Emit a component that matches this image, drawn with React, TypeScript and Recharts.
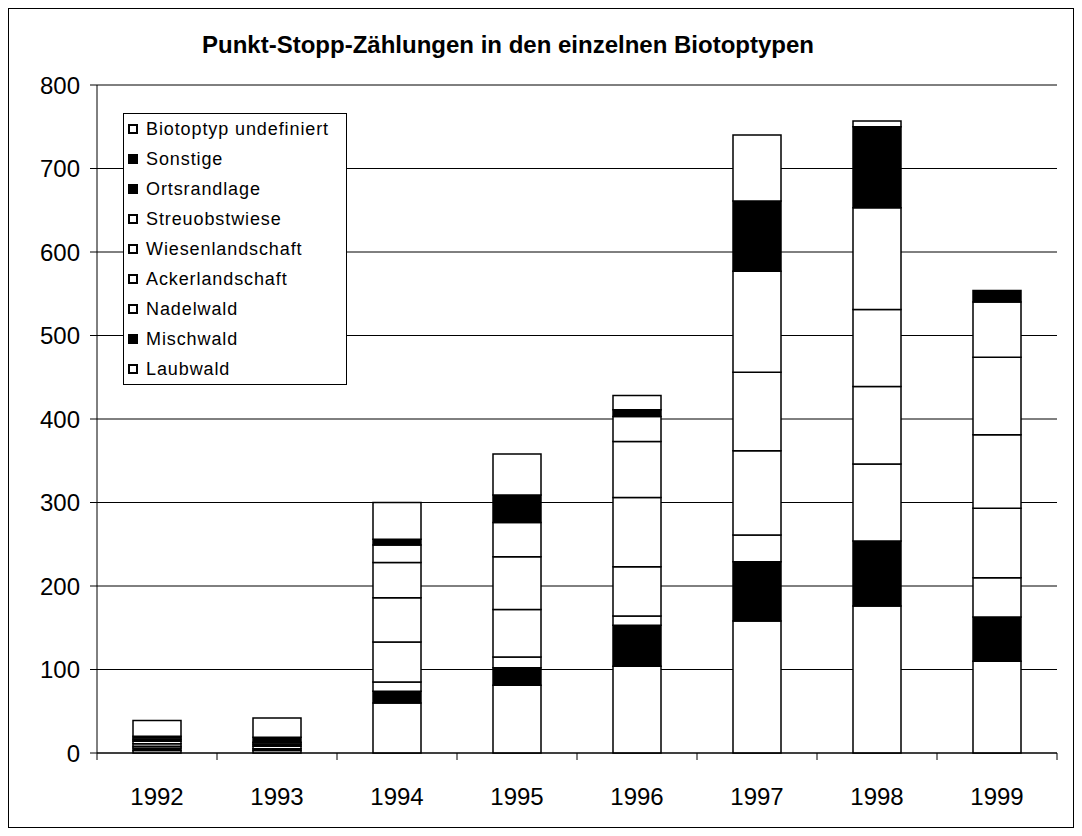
import React from 'react';
import { BarChart, Bar, XAxis, YAxis, CartesianGrid, Legend } from 'recharts';

const years = ['1992', '1993', '1994', '1995', '1996', '1997', '1998', '1999'];
const laubwald = [3, 3, 60, 81, 104, 158, 176, 110];
const mischwald = [3, 2, 14, 21, 49, 71, 78, 53];
const nadelwald = [2, 3, 11, 13, 11, 32, 92, 47];
const ackerlandschaft = [3, 2, 48, 57, 59, 101, 93, 83];
const wiesenlandschaft = [3, 2, 53, 63, 83, 94, 92, 88];
const streuobstwiese = [2, 1, 42, 41, 67, 121, 122, 93];
const ortsrandlage = [2, 0, 21, 0, 30, 0, 0, 66];
const sonstige = [2, 6, 7, 33, 8, 84, 97, 14];
const undefiniert = [19, 23, 44, 49, 17, 79, 7, 0];

const seriesNames = [
  'Laubwald',
  'Mischwald',
  'Nadelwald',
  'Ackerlandschaft',
  'Wiesenlandschaft',
  'Streuobstwiese',
  'Ortsrandlage',
  'Sonstige',
  'Biotoptyp undefiniert',
];
const seriesValues = [
  laubwald,
  mischwald,
  nadelwald,
  ackerlandschaft,
  wiesenlandschaft,
  streuobstwiese,
  ortsrandlage,
  sonstige,
  undefiniert,
];
const barFills = ['#ffffff', '#000000', '#ffffff', '#ffffff', '#ffffff', '#ffffff', '#ffffff', '#000000', '#ffffff'];
const legendFills = ['#ffffff', '#000000', '#ffffff', '#ffffff', '#ffffff', '#ffffff', '#000000', '#000000', '#ffffff'];
const yTicks = [0, 100, 200, 300, 400, 500, 600, 700, 800];

const title = 'Punkt-Stopp-Zählungen in den einzelnen Biotoptypen';

const data = years.map((year, i) => {
  const row: Record<string, string | number> = { year };
  seriesNames.forEach((name, k) => {
    row[name] = seriesValues[k][i];
  });
  return row;
});

const FONT = '"Liberation Sans", Arial, sans-serif';

const LegendBox = () => (
  <div
    style={{
      border: '1px solid #000',
      background: '#fff',
      width: 222,
      fontFamily: FONT,
      fontSize: 18,
      letterSpacing: 0.9,
      color: '#000',
    }}
  >
    {[...seriesNames].reverse().map((name) => {
      const k = seriesNames.indexOf(name);
      return (
        <div key={name} style={{ height: 30, display: 'flex', alignItems: 'center' }}>
          <span
            style={{
              display: 'inline-block',
              width: 6,
              height: 6,
              border: '2px solid #000',
              background: legendFills[k],
              marginLeft: 4,
              marginRight: 8,
            }}
          />
          <span>{name}</span>
        </div>
      );
    })}
  </div>
);

const XTick = (props: any) => {
  const { x, y, payload, index, visibleTicksCount } = props;
  const half = 60;
  const last = index === (visibleTicksCount ?? years.length) - 1;
  return (
    <g>
      <line x1={x - half} y1={y} x2={x - half} y2={y + 7} stroke="#000" strokeWidth={1} />
      {last && <line x1={x + half} y1={y} x2={x + half} y2={y + 7} stroke="#000" strokeWidth={1} />}
      <text x={x} y={y + 52} textAnchor="middle" fontSize={24} fontFamily={FONT} fill="#000">
        {payload.value}
      </text>
    </g>
  );
};

export default function App() {
  return (
    <div
      style={{
        position: 'relative',
        width: 1064,
        height: 818,
        border: '1px solid #000',
        background: '#fff',
      }}
    >
      <div
        style={{
          position: 'absolute',
          left: 0,
          width: 998,
          top: 22,
          textAlign: 'center',
          fontFamily: FONT,
          fontWeight: 'bold',
          fontSize: 24,
          letterSpacing: 0,
          color: '#000',
          zIndex: 2,
        }}
      >
        {title}
      </div>
      <BarChart
        width={1064}
        height={818}
        data={data}
        margin={{ top: 76, right: 16, left: 0, bottom: 34 }}
        barSize={48}
      >
        <CartesianGrid vertical={false} stroke="#000" strokeWidth={1} />
        <XAxis
          dataKey="year"
          tick={<XTick />}
          tickLine={false}
          tickSize={0}
          tickMargin={0}
          height={40}
          axisLine={{ stroke: '#000', strokeWidth: 1 }}
          interval={0}
        />
        <YAxis
          domain={[0, 800]}
          ticks={yTicks}
          width={88}
          tickSize={7}
          tickMargin={10}
          tickLine={{ stroke: '#000' }}
          axisLine={{ stroke: '#000', strokeWidth: 1 }}
          tick={{ fill: '#000', fontSize: 24, fontFamily: FONT }}
        />
        <Legend
          content={<LegendBox />}
          layout="vertical"
          align="center"
          verticalAlign="middle"
          wrapperStyle={{ position: 'absolute', left: 114, top: 104, width: 224, height: 272 }}
        />
        {seriesNames.map((name, k) => (
          <Bar
            key={name}
            dataKey={name}
            stackId="a"
            fill={barFills[k]}
            stroke="#000"
            strokeWidth={1.5}
            isAnimationActive={false}
          />
        ))}
      </BarChart>
    </div>
  );
}
